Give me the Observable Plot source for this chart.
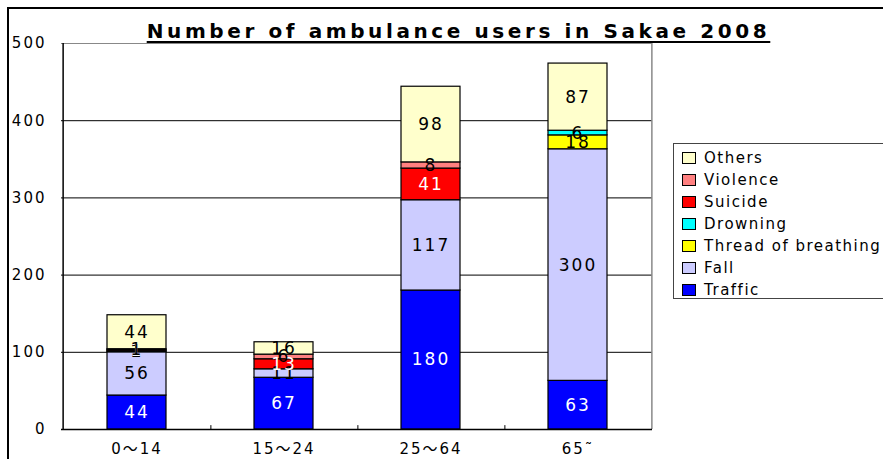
<!DOCTYPE html>
<html><head><meta charset="utf-8">
<script src="https://cdn.jsdelivr.net/npm/d3@7"></script>
<script src="https://cdn.jsdelivr.net/npm/@observablehq/plot@0.6"></script>
<style>
body{margin:0;background:#fff;}
#wrap{position:relative;width:883px;height:459px;overflow:hidden;font-family:"DejaVu Sans","Noto Sans CJK JP",sans-serif;}
#border{position:absolute;left:7px;top:7px;width:880px;height:460px;border-top:2px solid #000;border-left:2px solid #000;}
#title{position:absolute;left:0;top:19px;width:917px;text-align:center;font-size:20px;font-weight:bold;letter-spacing:3.6px;text-decoration:underline;text-underline-offset:3px;color:#000;}
#legend{position:absolute;left:673px;top:143px;width:240px;height:154px;border:1px solid #444;background:#fff;}
.li{position:absolute;left:8px;height:20px;font-size:15px;line-height:20px;color:#000;letter-spacing:1.5px;white-space:nowrap;}
.sw{display:inline-block;width:12px;height:10px;border:1px solid #000;margin-right:8px;vertical-align:-1px;}
#chart svg text{letter-spacing:2px;}
</style></head>
<body>
<div id="wrap">
<div id="border"></div>
<div id="chart"></div>
<div id="title">Number of ambulance users in Sakae 2008</div>
<div id="legend"></div>
</div>
<script>
const ageGroups = ["0～14", "15～24", "25～64", "65˜"];
const causes = ["Traffic", "Fall", "Thread of breathing", "Drowning", "Suicide", "Violence", "Others"];
const causeColors = ["#0000FF", "#CCCCFF", "#FFFF00", "#00FFFF", "#FF0000", "#FF8080", "#FFFFCC"];
const labelColors = ["#fff", "#000", "#000", "#000", "#fff", "#000", "#000"];
const traffic  = [44, 67, 180, 63];
const fall     = [56, 11, 117, 300];
const thread   = [1, 0, 0, 18];
const drowning = [1, 0, 0, 6];
const suicide  = [1, 13, 41, 0];
const violence = [1, 6, 8, 0];
const others   = [44, 16, 98, 87];
const yTicks = [0, 100, 200, 300, 400, 500];
const gridLines = [100, 200, 300, 400];

const series = [traffic, fall, thread, drowning, suicide, violence, others];
const data = [];
ageGroups.forEach((g, i) => series.forEach((s, k) => {
  if (s[i] > 0) data.push({group: g, cause: causes[k], value: s[i], fill: causeColors[k], label: labelColors[k]});
}));

const step = (652 - 61) / 4;
const font = '"DejaVu Sans","Noto Sans CJK JP",sans-serif';
const chart = Plot.plot({
  width: 883, height: 459,
  marginLeft: 61, marginRight: 231, marginTop: 43, marginBottom: 30,
  style: {fontFamily: font, background: "transparent"},
  x: {domain: ageGroups, paddingInner: 0.6, paddingOuter: 0.3, label: null},
  y: {domain: [0, 500], label: null},
  color: {type: "identity"},
  marks: [
    Plot.ruleY(gridLines, {stroke: "#000", strokeWidth: 1}),
    Plot.ruleY([500], {stroke: "#888", strokeWidth: 1}),
    Plot.ruleX([ageGroups[3]], {y1: 0, y2: 500, dx: step / 2, stroke: "#888", strokeWidth: 1.5}),
    Plot.barY(data, Plot.stackY({x: "group", y: "value", fill: "fill", order: causes, stroke: "#000", strokeWidth: 1.2, inset: 0})),
    Plot.text(data, Plot.stackY({x: "group", y: "value", z: "cause", order: causes, text: "value", fill: "label", fontSize: 17})),
    Plot.ruleY([0], {stroke: "#000", strokeWidth: 1.5}),
    Plot.ruleX([ageGroups[0]], {y1: 0, y2: 500, dx: -step / 2, stroke: "#000", strokeWidth: 1.5}),
    Plot.ruleX(ageGroups.slice(0, 3), {y1: 0, y2: 5, dx: step / 2, stroke: "#000"}),
    Plot.axisY(yTicks, {tickSize: 0, tickPadding: 15, fontSize: 15, label: null}),
    Plot.axisX({tickSize: 0, tickPadding: 14, fontSize: 15, label: null})
  ]
});
document.getElementById("chart").appendChild(chart);

const legend = document.getElementById("legend");
const legendOrder = [6, 5, 4, 3, 2, 1, 0];
legendOrder.forEach((k, i) => {
  const div = document.createElement("div");
  div.className = "li";
  div.style.top = (4 + i * 22) + "px";
  div.innerHTML = `<span class="sw" style="background:${causeColors[k]}"></span>`;
  div.appendChild(document.createTextNode(causes[k]));
  legend.appendChild(div);
});
</script>
</body></html>
